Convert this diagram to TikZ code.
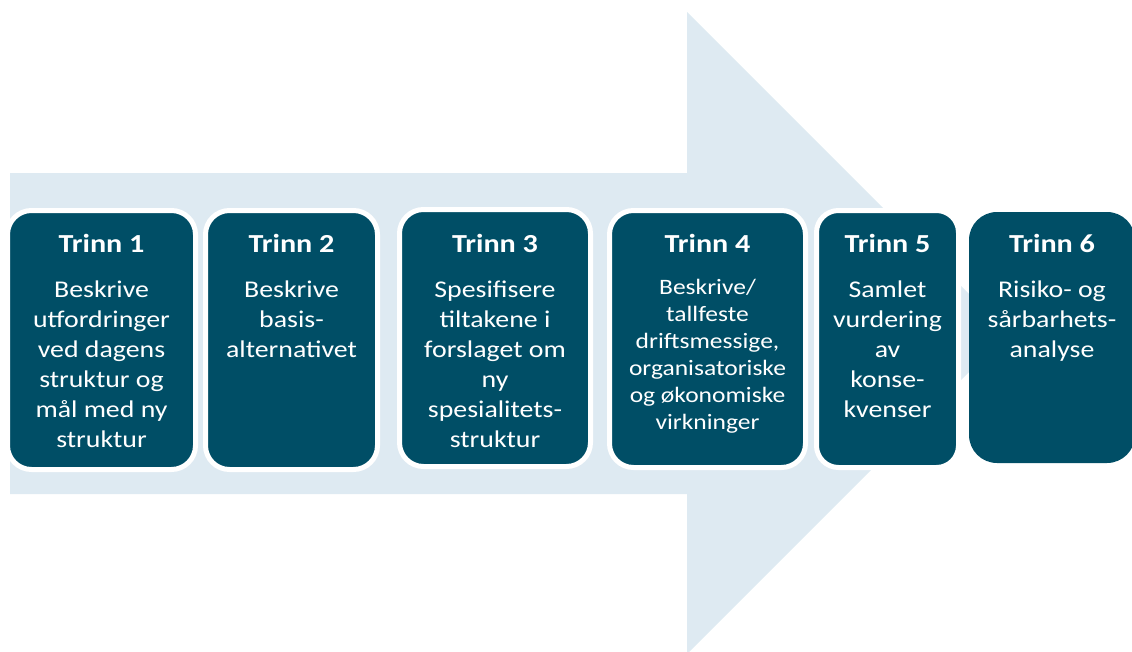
\documentclass[tikz,border=0pt]{standalone}
\usepackage{fontspec}
\setmainfont{Carlito}[FakeStretch=1.16]
\definecolor{stepteal}{RGB}{0,78,102}
\definecolor{arrowblue}{RGB}{222,234,242}
\newcommand\trinnfont{\fontsize{26}{30}\selectfont\bfseries}
\newcommand\bodyA{\fontsize{24}{30}\selectfont}
\newcommand\bodyB{\fontsize{22}{27}\selectfont}
\newcommand\steptext[3]{\parbox[t]{#1}{\centering{\trinnfont #2}\par\vspace{15pt}#3}}
\begin{document}
\begin{tikzpicture}[x=1pt,y=-1pt,
  stepbox/.style={draw=white, line width=5pt, fill=stepteal, rounded corners=24pt, inner sep=0pt},
  steptxt/.style={anchor=base, inner sep=0pt, text=white}]
\useasboundingbox (0,0) rectangle (1132,651);
% big background arrow
\fill[arrowblue] (10,173) -- (687,173) -- (687,12) -- (1008,333) -- (687,654) -- (687,494) -- (10,494) -- cycle;
% boxes
\node[stepbox, minimum width=188pt, minimum height=259pt] (b1) at (101.5,340) {};
\node[stepbox, minimum width=172pt, minimum height=259pt] (b2) at (291.5,340) {};
\node[stepbox, minimum width=191pt, minimum height=257pt] (b3) at (495,338) {};
\node[stepbox, minimum width=196pt, minimum height=257pt] (b4) at (707.5,339) {};
\node[stepbox, minimum width=142pt, minimum height=257pt, rounded corners=22pt] (b5) at (887.5,339) {};
\node[stepbox, draw=none, minimum width=166pt, minimum height=251pt, rounded corners=28pt] (b6) at (1052,337.5) {};
\coordinate (ty) at (0,252);
% texts
\node[steptxt] (t1) at (b1 |- ty) {\steptext{180pt}{Trinn 1}{\bodyA Beskrive\\utfordringer\\ved dagens\\struktur og\\mål med ny\\struktur}};
\node[steptxt] (t2) at (b2 |- ty) {\steptext{164pt}{Trinn 2}{\bodyA Beskrive\\basis-\\alternativet}};
\node[steptxt] (t3) at (b3 |- ty) {\steptext{182pt}{Trinn 3}{\bodyA Spesifisere\\tiltakene i\\forslaget om\\ny\\spesialitets-\\struktur}};
\node[steptxt] (t4) at (b4 |- ty) {\steptext{188pt}{Trinn 4}{\bodyB Beskrive/\\tallfeste\\driftsmessige,\\organisatoriske\\og økonomiske\\virkninger}};
\node[steptxt] (t5) at (b5 |- ty) {\steptext{134pt}{Trinn 5}{\bodyA Samlet\\vurdering\\av\\konse-\\kvenser}};
\node[steptxt] (t6) at (b6 |- ty) {\steptext{160pt}{Trinn 6}{\bodyA Risiko- og\\sårbarhets-\\analyse}};
\end{tikzpicture}
\end{document}
